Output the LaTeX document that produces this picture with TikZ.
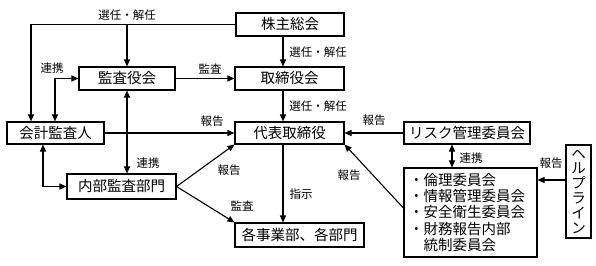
\documentclass[tikz,border=0pt]{standalone}
\usepackage{fontspec}
\setmainfont{Noto Sans CJK JP}
\usetikzlibrary{arrows.meta,calc}
\begin{document}
\begin{tikzpicture}[x=1pt,y=-1pt,
  box/.style={draw,line width=1.1pt,inner sep=0pt,font=\fontsize{14.5}{16}\selectfont},
  lbl/.style={inner sep=0pt,font=\fontsize{11.5}{13}\selectfont},
  arr/.style={line width=1.1pt,-{Triangle[length=7pt,width=6pt]}},
  darr/.style={line width=1.1pt,{Triangle[length=7pt,width=6pt]}-{Triangle[length=7pt,width=6pt]}}]
\useasboundingbox (0,0) rectangle (596,265);
\node[box,minimum width=108pt,minimum height=23pt] (kabu) at (290,24.5) {株主総会};
\node[box,minimum width=96pt,minimum height=23pt] (kansa) at (127,78.5) {監査役会};
\node[box,minimum width=109pt,minimum height=23pt] (tori) at (289.5,78.5) {取締役会};
\node[box,minimum width=97pt,minimum height=22pt] (kaikei) at (55.5,133) {会計監査人};
\node[box,minimum width=109pt,minimum height=22pt] (daihyo) at (289.5,133) {代表取締役};
\node[box,minimum width=109pt,minimum height=25pt] (naibu) at (121.5,186.5) {内部監査部門};
\node[box,minimum width=129pt,minimum height=24pt] (kaku) at (299.5,235) {各事業部、各部門};
\node[box,minimum width=126pt,minimum height=22pt] (risk) at (467,133) {リスク管理委員会};
\node[box,text width=123pt,inner xsep=5pt,align=left,minimum height=89pt,font=\fontsize{14.5}{16.3}\selectfont] (comm) at (470.5,212.5)
  {・倫理委員会\\・情報管理委員会\\・安全衛生委員会\\・財務報告内部\\　統制委員会};
\node[box,minimum width=25pt,minimum height=93pt,align=center,font=\fontsize{14.5}{14.8}\selectfont] (help) at (578.5,191.5)
  {ヘ\\ル\\プ\\ラ\\イ\\ン};
\coordinate (x31) at (31,0);
\coordinate (x55) at (55,0);
\coordinate (x43) at (43,0);
\coordinate (x283) at (283,0);
\coordinate (x452) at (452,0);
\coordinate (y208) at (0,208);
\coordinate (y180) at (0,180);
\draw[arr] (kabu.west) -| (x31 |- kaikei.north);
\draw[arr] (kabu.west -| kansa.north) -- (kansa.north);
\draw[arr] (kabu.south -| x283) -- (tori.north -| x283);
\draw[arr] (kansa.east) -- (tori.west);
\draw[arr] (tori.south -| x283) -- (daihyo.north -| x283);
\draw[darr] (kansa.west) -| (x55 |- kaikei.north);
\draw[darr] (kansa.south) -- (kansa.south |- naibu.north);
\draw[arr] (kaikei.east) -- (daihyo.west);
\draw[darr] (x43 |- kaikei.south) |- (naibu.west);
\draw[arr] (naibu.east) -- (daihyo.south west);
\draw[arr] (naibu.east) -- (kaku.north west);
\draw[arr] (daihyo.south -| x283) -- (kaku.north -| x283);
\draw[arr] (risk.west) -- (daihyo.east);
\draw[darr] (comm.north -| x452) -- (risk.south -| x452);
\draw[arr] (comm.west |- y208) -- (daihyo.south east);
\draw[arr] (help.west |- y180) -- (comm.east |- y180);
\node[lbl] (l1) at (127,15) {選任・解任};
\node[lbl] (l2) at (318,52) {選任・解任};
\node[lbl] (l3) at (318,106) {選任・解任};
\node[lbl] (l4) at (210,69) {監査};
\node[lbl] (l5) at (52,68) {連携};
\node[lbl] (l6) at (148,163) {連携};
\node[lbl] (l7) at (212,121) {報告};
\node[lbl] (l8) at (229,170) {報告};
\node[lbl] (l9) at (242,206) {監査};
\node[lbl] (l10) at (301,194) {指示};
\node[lbl] (l11) at (374,120) {報告};
\node[lbl] (l12) at (349,175) {報告};
\node[lbl] (l13) at (471,158) {連携};
\node[lbl] (l14) at (551,163) {報告};
\end{tikzpicture}
\end{document}
